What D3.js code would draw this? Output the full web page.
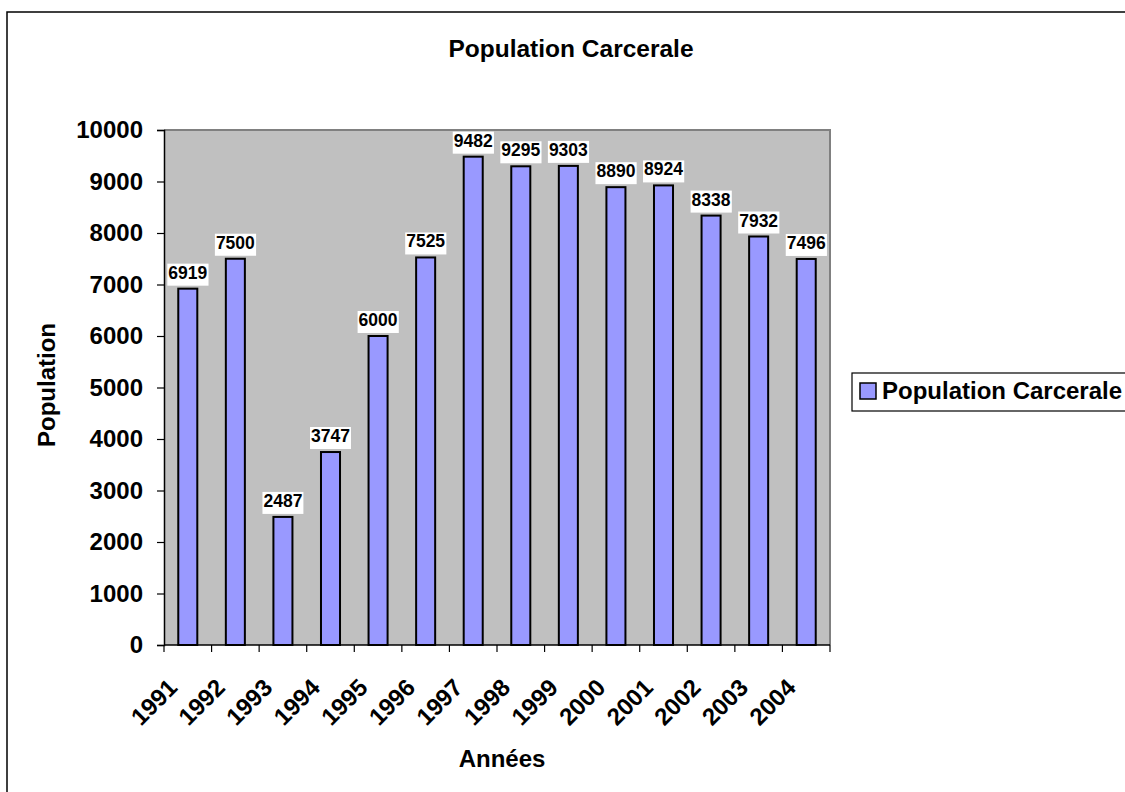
<!DOCTYPE html>
<html>
<head>
<meta charset="utf-8">
<script src="https://cdn.jsdelivr.net/npm/d3@7"></script>
<style>
  html, body { margin: 0; padding: 0; background: #fff; }
  svg { display: block; font-family: "Liberation Sans", Arial, sans-serif; font-weight: bold; }
</style>
</head>
<body>
<svg id="chart" width="1125" height="792"></svg>
<script>
// Prison population per year
const years = ["1991","1992","1993","1994","1995","1996","1997","1998","1999","2000","2001","2002","2003","2004"];
const population = [6919, 7500, 2487, 3747, 6000, 7525, 9482, 9295, 9303, 8890, 8924, 8338, 7932, 7496];
const yTicks = [0,1000,2000,3000,4000,5000,6000,7000,8000,9000,10000];
const chartTitle = "Population Carcerale";
const seriesName = "Population Carcerale";
const xTitle = "Années";
const yTitle = "Population";

const svg = d3.select("#chart");
const plot = { left: 164, right: 830, top: 130, bottom: 645 };

// Outer chart frame
svg.append("rect")
  .attr("x", 7).attr("y", 12).attr("width", 1140).attr("height", 800)
  .attr("fill", "#fff").attr("stroke", "#000").attr("stroke-width", 1.5);

const x = d3.scaleBand().domain(years).range([plot.left, plot.right]).paddingInner(0).paddingOuter(0);
const y = d3.scaleLinear().domain([0, 10000]).range([plot.bottom, plot.top]);

// Plot background
svg.append("rect")
  .attr("x", plot.left).attr("y", plot.top)
  .attr("width", plot.right - plot.left).attr("height", plot.bottom - plot.top)
  .attr("fill", "#C0C0C0");
// Grey top and right plot border
svg.append("path")
  .attr("d", `M${plot.left},${plot.top}H${plot.right}V${plot.bottom}`)
  .attr("fill", "none").attr("stroke", "#808080").attr("stroke-width", 2);

// Bars
const barW = x.bandwidth() * 0.4;
svg.append("g").selectAll("rect")
  .data(years)
  .join("rect")
  .attr("x", (d) => x(d) + x.bandwidth() / 2 - barW / 2)
  .attr("y", (d, i) => y(population[i]))
  .attr("width", barW)
  .attr("height", (d, i) => y(0) - y(population[i]))
  .attr("fill", "#9999FF")
  .attr("stroke", "#000")
  .attr("stroke-width", 2);

// Y axis
const yAxis = svg.append("g")
  .attr("transform", `translate(${plot.left},0)`)
  .call(d3.axisLeft(y).tickValues(yTicks).tickSize(7).tickPadding(14).tickFormat(d3.format("d")));
yAxis.select(".domain").attr("stroke", "#000").attr("stroke-width", 1.5);
yAxis.selectAll(".tick line").attr("stroke", "#000").attr("stroke-width", 1.2);
yAxis.selectAll(".tick text")
  .attr("font-size", 24).attr("font-weight", "bold").attr("fill", "#000")
  .attr("font-family", "Liberation Sans, Arial, sans-serif");

// X axis: ticks on band boundaries
const xAxisG = svg.append("g").attr("transform", `translate(0,${plot.bottom})`);
xAxisG.append("line")
  .attr("x1", plot.left).attr("x2", plot.right)
  .attr("stroke", "#000").attr("stroke-width", 1.5);
const boundaries = years.map((d) => x(d)).concat([plot.right]);
xAxisG.selectAll("line.tick")
  .data(boundaries)
  .join("line")
  .attr("class", "tick")
  .attr("x1", (d) => d).attr("x2", (d) => d)
  .attr("y1", 0).attr("y2", 7)
  .attr("stroke", "#000").attr("stroke-width", 1.2);
xAxisG.selectAll("text")
  .data(years)
  .join("text")
  .attr("transform", (d) => `translate(${x(d) + x.bandwidth() / 2 - 9},${44}) rotate(-45)`)
  .attr("text-anchor", "end")
  .attr("font-size", 24)
  .attr("fill", "#000")
  .text((d) => d);

// Value labels on white boxes
const labels = svg.append("g");
years.forEach((d, i) => {
  const cx = x(d) + x.bandwidth() / 2;
  const base = y(population[i]) - 10;
  const g = labels.append("g");
  const t = g.append("text")
    .attr("x", cx).attr("y", base)
    .attr("text-anchor", "middle")
    .attr("font-size", 17.5)
    .attr("fill", "#000")
    .text(population[i]);
  const bb = t.node().getBBox();
  g.insert("rect", "text")
    .attr("x", bb.x - 1).attr("y", bb.y + 1)
    .attr("width", bb.width + 2).attr("height", bb.height + 2)
    .attr("fill", "#fff");
});

// Title
svg.append("text")
  .attr("x", 571).attr("y", 57)
  .attr("text-anchor", "middle")
  .attr("font-size", 24.5)
  .text(chartTitle);

// Axis titles
svg.append("text")
  .attr("x", 502).attr("y", 767)
  .attr("text-anchor", "middle")
  .attr("font-size", 24)
  .text(xTitle);
svg.append("text")
  .attr("transform", `translate(55,385) rotate(-90)`)
  .attr("text-anchor", "middle")
  .attr("font-size", 24)
  .text(yTitle);

// Legend
const legend = svg.append("g");
legend.append("rect")
  .attr("x", 852).attr("y", 373).attr("width", 320).attr("height", 38)
  .attr("fill", "#fff").attr("stroke", "#000").attr("stroke-width", 1.2);
legend.append("rect")
  .attr("x", 860).attr("y", 383).attr("width", 16).attr("height", 16)
  .attr("fill", "#9999FF").attr("stroke", "#000").attr("stroke-width", 1.5);
legend.append("text")
  .attr("x", 882).attr("y", 399)
  .attr("font-size", 24)
  .text(seriesName);
</script>
</body>
</html>
